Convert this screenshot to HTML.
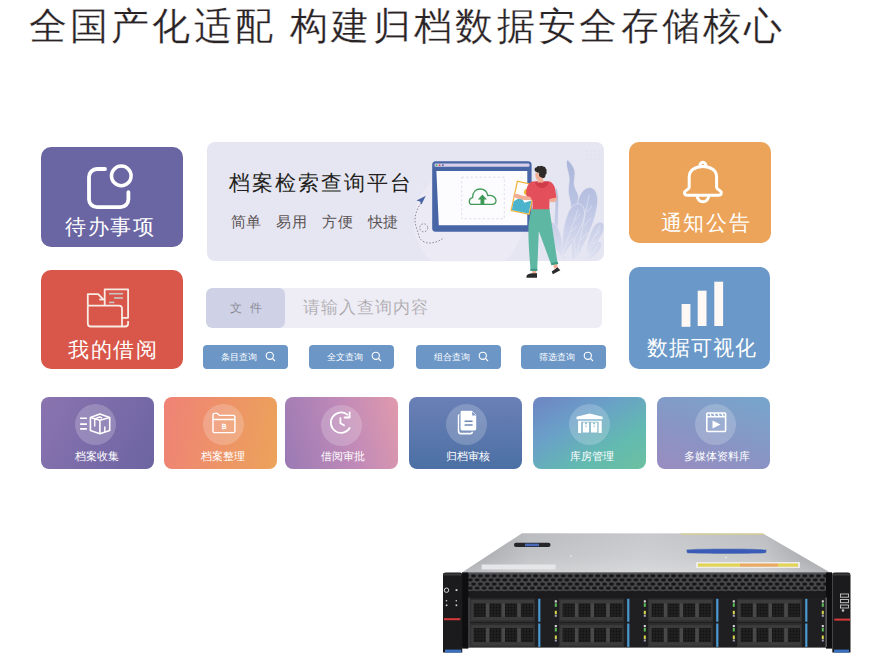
<!DOCTYPE html>
<html><head><meta charset="utf-8">
<style>
*{margin:0;padding:0;box-sizing:border-box}
html,body{width:873px;height:666px;overflow:hidden;background:#fff;font-family:"Liberation Sans",sans-serif}
.a{position:absolute}
.t{position:absolute;white-space:nowrap;line-height:1}
#title{left:28.5px;top:7px;font-size:38px;color:#2a2325;letter-spacing:3.3px;-webkit-text-stroke:0.25px #fff}
.card{position:absolute;border-radius:10px}
.ct{position:absolute;color:#fff;font-size:21px;line-height:1;white-space:nowrap;letter-spacing:1.7px}
.btn{position:absolute;top:344.5px;height:24.5px;width:85px;border-radius:4px;background:#6b96c6;color:#fff;font-size:9px}
.btn span{position:absolute;left:18px;top:8.5px;line-height:1;white-space:nowrap}
.btn svg{position:absolute;left:61.8px;top:6.5px}
.sc{position:absolute;top:396.5px;height:72.5px;width:113px;border-radius:8px;overflow:hidden}
.sc .c{position:absolute;left:34px;top:7px;width:41px;height:41px;border-radius:50%;background:rgba(255,255,255,0.2)}
.sc .l{position:absolute;width:113px;top:54px;text-align:center;color:#fff;font-size:10.5px;line-height:1;white-space:nowrap}
.sc svg{position:absolute}
</style></head><body>
<div id="title" class="t">全国产化适配 构建归档数据安全存储核心</div>

<!-- left big cards -->
<div class="card" style="left:41px;top:147px;width:142px;height:100px;background:#6a66a3">
  <svg class="a" style="left:0;top:0" width="142" height="100" viewBox="0 0 142 100">
    <path d="M64 22 H56 A8 8 0 0 0 48 30 V52.2 A8 8 0 0 0 56 60.2 H79.4 A8 8 0 0 0 87.4 52.2 V45.2" fill="none" stroke="#fff" stroke-width="3.8" stroke-linecap="round"/>
    <circle cx="80.3" cy="28.9" r="9.8" fill="none" stroke="#fff" stroke-width="3.5"/>
  </svg>
  <div class="ct" style="top:69px;left:24px">待办事项</div>
</div>
<div class="card" style="left:41px;top:270px;width:142px;height:99px;background:#d9574a">
  <svg class="a" style="left:0;top:0" width="142" height="99" viewBox="0 0 142 99">
    <g fill="none" stroke="#f7ebe4" stroke-width="1.8" stroke-linejoin="round">
      <path d="M63.7 35.6 V19.4 H87.1 V47.8 H81.3"/>
      <path d="M46.8 35.6 V24.1 H57.2 L62 29.2"/>
      <path d="M58.3 29.5 H63.7"/>
      <path d="M46.8 35.6 V53.5 A3 3 0 0 0 49.8 56.5 H84.1 A3 3 0 0 0 87.1 53.5 V51.1"/>
      <path d="M46.8 35.6 H78 A3 3 0 0 1 81 38.6 V56.5"/>
    </g>
    <g stroke="#cbc6c6" stroke-width="1.6"><path d="M68 23.7 H82"/><path d="M73 28 H82"/><path d="M68 32.4 H73.4"/></g>
  </svg>
  <div class="ct" style="top:68.5px;left:27px">我的借阅</div>
</div>

<!-- banner -->
<div class="card" style="left:206.5px;top:142px;width:397px;height:119.2px;background:#e6e6f2;border-radius:8px;overflow:hidden">
  <div class="t" style="left:22px;top:30px;font-size:21px;color:#231f20;letter-spacing:2.05px">档案检索查询平台</div>
  <div class="t" style="left:24px;top:72px;font-size:15px;color:#5a5354;letter-spacing:0.3px">简单&#12288;易用&#12288;方便&#12288;快捷</div>
</div>

<!-- illustration -->
<svg class="a" style="left:0;top:0" width="873" height="300" viewBox="0 0 873 300">
 <defs>
  <linearGradient id="lf" x1="0" y1="150" x2="0" y2="262" gradientUnits="userSpaceOnUse"><stop offset="0" stop-color="#a6b2d8"/><stop offset="0.45" stop-color="#b9c2e2"/><stop offset="1" stop-color="#e0e2f1"/></linearGradient>
  <clipPath id="bn"><rect x="206.5" y="142" width="397" height="119.2" rx="8"/></clipPath>
 </defs>
 <g clip-path="url(#bn)">
  <circle cx="468" cy="222" r="54" fill="#ecebf5"/>
  <!-- dots -->
  <g fill="#d4d3e6">
   <circle cx="587" cy="151" r="0.5"/><circle cx="591" cy="151" r="0.5"/><circle cx="595" cy="151" r="0.5"/><circle cx="599" cy="151" r="0.5"/>
   <circle cx="587" cy="155" r="0.5"/><circle cx="591" cy="155" r="0.5"/><circle cx="595" cy="155" r="0.5"/><circle cx="599" cy="155" r="0.5"/>
   <circle cx="587" cy="159" r="0.5"/><circle cx="591" cy="159" r="0.5"/><circle cx="595" cy="159" r="0.5"/><circle cx="599" cy="159" r="0.5"/>
  </g>
  <!-- plants -->
  <g fill="url(#lf)" stroke="#e4e5f2" stroke-width="0.7">
   <path d="M567.5 159.8 C571 163 575 168 575 173 C575 178 573.5 182 574.5 186 C575.5 190 579 194 578.8 199 C578.6 206 577 212 576.5 220 C576 235 577 248 577 259 L571.5 259 C571.5 246 571 232 571 220 C571 212 571 207 570.5 203 C570 198 568 195 568.3 190 C568.6 185 569.5 182 569 177 C568.5 172 566.5 168 566.5 164 C566.5 162 567 160.5 567.5 159.8 Z"/>
   <path d="M556.3 187 C553.5 194 555.5 202 555 210 C554.5 216 553.5 222 555 230 L558 230 C558.5 222 558 216 558.5 208 C559 200 558.5 192 556.3 187 Z"/>
   <path d="M549.5 222.5 C541.7 226.5 550.2 243.3 564.0 259.0 C563.3 238.2 557.9 220.0 549.5 222.5Z"/>
   <path d="M590.8 187.5 C575.8 185.9 571.6 220.8 576.0 259.0 C595.2 225.7 605.2 192.0 590.8 187.5Z"/>
   <path d="M579.8 204.0 C567.6 201.1 561.4 227.3 562.0 257.0 C580.4 233.7 591.3 209.0 579.8 204.0Z"/>
   <path d="M601.8 222.5 C594.2 219.5 588.1 235.3 586.0 254.0 C599.7 241.2 608.7 226.8 601.8 222.5Z"/>
   <path d="M600.2 242.0 C594.8 238.8 589.5 248.6 587.0 261.0 C597.7 254.4 605.1 245.9 600.2 242.0Z"/>
  </g>
  <g fill="none" stroke="#eef0f8" stroke-width="0.5" opacity="0.9">
   <path d="M589.3 194.7 L576.0 259.0"/><path d="M578.0 209.2 L562.0 256.0"/><path d="M600.2 225.6 L586.0 253.0"/><path d="M598.9 243.8 L587.0 260.0"/>
   <path d="M587 212 L592 206 M584 226 L591 218 M581 240 L588 232 M575 220 L580 214 M571 232 L577 226 M567 244 L573 238 M595 236 L600 231 M592 244 L597 239"/>
  </g>
  <!-- dashed path + plane -->
  <path d="M421 203 C417.5 208 415 214 415 220 C415 226 418 231 419 236 C420 240 424 243 429.5 243 C435 243 439 241 443 238.5" fill="none" stroke="#7a7080" stroke-width="0.8" stroke-dasharray="1.6 1.6"/><circle cx="423.7" cy="227.8" r="4" fill="none" stroke="#7a7080" stroke-width="0.8" stroke-dasharray="1.6 1.6"/>
  <path d="M425.8 195.8 L416.5 200.5 L420 201.5 L421.5 204.5 Z" fill="#4a64a6"/>
 </g>
 <!-- monitor -->
 <rect x="432.2" y="161.3" width="99.4" height="70.5" rx="3.5" fill="#4865a6"/>
 <rect x="434.5" y="163.5" width="95" height="3.2" rx="1.2" fill="#d8d0e8"/>
 <circle cx="436.6" cy="165.2" r="0.9" fill="#4cae5a"/><circle cx="439.6" cy="165.2" r="0.9" fill="#e04a50"/><circle cx="442.8" cy="165.2" r="0.9" fill="#4865a6"/>
 <path d="M436.4 171 H527.3 V225.3 H438.8 Z" fill="#fcfbfe"/>
 <rect x="461.7" y="177.2" width="42.6" height="41.5" fill="none" stroke="#d2d2dc" stroke-width="0.7" stroke-dasharray="2.2 2.3"/>
 <path d="M471.5 204.3 C468.5 204.3 468.3 198 472.6 197.6 C472.6 192 476 189 480.2 189 C484.5 189 487 192 487.8 195.5 C492.5 195 496 197.2 496 200.5 C496 203 494.3 204.3 492 204.3 Z" fill="none" stroke="#3f9a58" stroke-width="1.3"/>
 <path d="M482.4 194.6 L477.8 199.4 H480.5 V204.5 H484.3 V199.4 H487 Z" fill="#3f9a58"/>
 <!-- person -->
 <path d="M532.5 208 H549.3 L557.6 263.3 L551.2 264.8 L538.8 231 L537.2 270.8 L530.6 270.8 C529.4 256 528.3 242 528.4 230 C528.6 220 530.5 213 532.5 208 Z" fill="#5db7a2"/><path d="M532.3 270.5 H536.3 V273.8 H532.3 Z M553.2 264.8 L557 264 L557.8 267.5 L554 268.5 Z" fill="#f1ae94"/>
 <path d="M530.4 268.8 H537.3 V271 H530.4 Z M551 263 L557.8 261.8 L558.3 264 L551.4 265.2 Z" fill="#3e9c88"/>
 <path d="M526.5 276 C527 274 530 273.2 532.5 273.2 L537 273.2 V277.8 H526.5 Z" fill="#2a2a2c"/>
 <path d="M551.8 271.5 L557.5 267.3 L560.3 270.3 L552.8 274.2 Z" fill="#2a2a2c"/>
 <path d="M553 191 C556 192 557.5 196 556.5 200 C555.5 202.5 551 203 549.5 201 L549.5 193 Z" fill="#f1ae94"/>
 <g transform="rotate(12 522 197.5)"><rect x="513.5" y="182" width="19.5" height="31" fill="#f1b338"/><rect x="514.7" y="183.2" width="17.1" height="28.6" fill="#fdfcfa"/>
 <circle cx="526" cy="191" r="3.3" fill="#f3b632"/><path d="M514.7 203 L521 197.5 L525.5 202 L531.8 198.5 V211.8 H514.7 Z" fill="#4bb3cc"/></g>
 <path d="M532 181.5 H550 C553 183 555 186 555.5 191 L556.3 197.5 L549.5 199 L549.3 209.2 H532.6 L532.4 200 C530 200 525.5 198 526.2 191.5 C527 186 528.5 183 532 181.5 Z" fill="#e3505c"/>
 <path d="M535 181.5 H549 C548 186 545 188 542 188 C539 188 536 186 535 181.5 Z" fill="#d03c4a"/>
 <path d="M535.5 173 C535 176 536 179.5 538 180.5 L537.5 182.5 H543.5 L543 177 L539 176 L538.8 172.8 Z" fill="#f1ae94"/>
 <path d="M514 194.5 C516 193.5 519 194.2 522 195.5 L530 196.8 L532 199.5 C528 201 520 199.5 516 198 C513.5 197 512.5 195.5 514 194.5 Z" fill="#f1ae94"/>
 <path d="M534.6 170 C534.3 168.5 535.5 167.2 536.8 167.3 C537.2 166.2 538.5 165.8 539.5 166.4 C540.5 165.6 542 165.6 543 166.5 C544.3 166.2 545.5 167 545.5 168.3 C546.6 169 546.9 170.5 546.4 171.5 C547 172.5 546.6 174 545.6 174.5 C545.6 176 545 177.5 544 178 C542.5 178.2 540.8 177.3 539.5 176.5 C538.8 175.5 539 174 539.2 172.8 C538 173 536.8 172.5 536 171.8 C535.2 171.5 534.7 170.8 534.6 170 Z" fill="#2e2a28"/>
</svg>
<!-- search -->
<div class="a" style="left:206px;top:288px;width:396px;height:39.5px;background:#eeedf5;border-radius:6px;overflow:hidden">
  <div class="a" style="left:0;top:0;width:79px;height:39.5px;background:#cfd2e7;border-radius:6px"></div>
  <div class="t" style="left:23.5px;top:13.5px;font-size:12px;color:#767276;letter-spacing:8px;-webkit-text-stroke:0.2px #cfd2e7">文件</div>
  <div class="t" style="left:97px;top:11px;font-size:16.5px;color:#a09ca0;letter-spacing:1px;-webkit-text-stroke:0.25px #eeedf5">请输入查询内容</div>
</div>

<div class="btn" style="left:203px"><span>条目查询</span><svg width="11" height="11" viewBox="0 0 11 11"><circle cx="4.8" cy="4.8" r="3.6" fill="none" stroke="#fff" stroke-width="1.1"/><path d="M7.5 7.5 L10 10" stroke="#fff" stroke-width="1.1"/></svg></div>
<div class="btn" style="left:309px"><span>全文查询</span><svg width="11" height="11" viewBox="0 0 11 11"><circle cx="4.8" cy="4.8" r="3.6" fill="none" stroke="#fff" stroke-width="1.1"/><path d="M7.5 7.5 L10 10" stroke="#fff" stroke-width="1.1"/></svg></div>
<div class="btn" style="left:416px"><span>组合查询</span><svg width="11" height="11" viewBox="0 0 11 11"><circle cx="4.8" cy="4.8" r="3.6" fill="none" stroke="#fff" stroke-width="1.1"/><path d="M7.5 7.5 L10 10" stroke="#fff" stroke-width="1.1"/></svg></div>
<div class="btn" style="left:521px"><span>筛选查询</span><svg width="11" height="11" viewBox="0 0 11 11"><circle cx="4.8" cy="4.8" r="3.6" fill="none" stroke="#fff" stroke-width="1.1"/><path d="M7.5 7.5 L10 10" stroke="#fff" stroke-width="1.1"/></svg></div>

<!-- right cards -->
<div class="card" style="left:628.5px;top:142px;width:142.5px;height:100.5px;background:#eba45a">
  <svg class="a" style="left:0;top:0" width="142" height="100" viewBox="0 0 142 100">
    <g fill="none" stroke="#fff" stroke-width="3" stroke-linejoin="round">
      <path d="M60.2 45.5 V35 C60.2 28.5 66 24.5 73.9 24.5 C81.8 24.5 87.6 28.5 87.6 35 V45.5 C87.6 47.5 92.3 48 92.3 50.8 C92.3 52.5 91.3 53.3 89.3 53.3 H58.5 C56.5 53.3 55.5 52.5 55.5 50.8 C55.5 48 60.2 47.5 60.2 45.5 Z"/>
      <path d="M71.6 24.8 A2.8 2.8 0 1 1 76.2 24.8"/>
      <path d="M68 53.3 A5.9 6.5 0 0 0 79.8 53.3"/>
    </g>
  </svg>
  <div class="ct" style="top:70px;left:32px">通知公告</div>
</div>
<div class="card" style="left:628.5px;top:267px;width:141.5px;height:101.5px;background:#6a98c8">
  <svg class="a" style="left:0;top:0" width="142" height="101" viewBox="0 0 142 101">
    <g fill="#fff8f4"><rect x="52.6" y="37" width="8.8" height="22.8"/><rect x="68.7" y="23.7" width="8.8" height="35.3"/><rect x="85.3" y="14.7" width="8.8" height="44.3"/></g>
  </svg>
  <div class="ct" style="top:69.5px;left:18.5px;letter-spacing:1.05px">数据可视化</div>
</div>

<!-- bottom row -->
<div class="sc" style="left:41px;background:linear-gradient(120deg,#8a74b0,#6c64a2)">
 <div class="c" style="left:34.2px;top:7.9px"></div><div class="l" style="left:-0.9px">档案收集</div>
 <svg style="left:0;top:-1.5px" width="113" height="73" viewBox="0 0 113 73"><g fill="none" stroke="#fff" stroke-width="1.6" stroke-linejoin="round">
  <path d="M39.1 23.3 H45.9 M39.1 29.1 H45.9 M39.1 33.9 H45.9"/>
  <path d="M58.9 19.1 L68.7 22.4 V35.5 L58.9 38.7 L49.4 35.5 V22.4 Z"/>
  <path d="M49.4 22.4 L58.9 25.2 L68.7 22.4 M58.9 25.2 V38.7"/>
  <path d="M53.7 31.5 V23.8 L58.5 22 L61 23" stroke-width="1.4"/>
  <path d="M63.8 37 V31.5" stroke-width="1.4"/>
 </g></svg>
</div>
<div class="sc" style="left:163.5px;background:linear-gradient(100deg,#ef8276,#eca35a)">
 <div class="c" style="left:39.4px;top:7.9px"></div><div class="l" style="left:3.1px">档案整理</div>
 <svg style="left:-1px;top:-1.5px" width="113" height="73" viewBox="0 0 113 73"><g fill="none" stroke="#fff" stroke-width="1.4" stroke-linejoin="round">
  <path d="M50 36 V20 A1.6 1.6 0 0 1 51.6 18.4 H54.1 C55.2 18.4 55.4 20.4 56.8 20.4 H70.3 A1.6 1.6 0 0 1 71.9 22 V36 A1.6 1.6 0 0 1 70.3 37.6 H51.6 A1.6 1.6 0 0 1 50 36 Z"/>
  <path d="M50 24.5 H71.9"/>
 </g><text x="61.2" y="33.8" font-size="7" fill="none" stroke="#fff" stroke-width="0.55" text-anchor="middle" font-family="Liberation Sans">B</text></svg>
</div>
<div class="sc" style="left:285px;background:linear-gradient(75deg,#9a7ab4,#c08ab8 55%,#e09aac)">
 <div class="c" style="left:36.3px;top:8px"></div><div class="l" style="left:1.7px">借阅审批</div>
 <svg style="left:1px;top:-1.5px" width="113" height="73" viewBox="0 0 113 73"><g fill="none" stroke="#fff" stroke-width="1.8" stroke-linecap="round" stroke-linejoin="round">
  <path d="M63.73 33.01 A10.2 10.2 0 1 1 61.33 19.61"/>
  <path d="M58.6 22.5 H63.6 V17.4"/>
  <path d="M54.4 23.1 V28.3 L58 30.3"/>
 </g></svg>
</div>
<div class="sc" style="left:409px;background:linear-gradient(180deg,#6a80b6,#4c70a4)">
 <div class="c" style="left:37.1px;top:7px"></div><div class="l" style="left:2px">归档审核</div>
 <svg style="left:0.5px;top:-2px" width="113" height="73" viewBox="0 0 113 73">
  <path d="M51 19.5 H50.6 A2 2 0 0 0 48.6 21.5 V36.6 A2 2 0 0 0 50.6 38.6 H60.4 A2 2 0 0 0 62.4 36.6" fill="none" stroke="#fff" stroke-width="1.6"/>
  <path d="M52 15.1 H62.2 L66.8 19.7 V34 A2 2 0 0 1 64.8 36 H52 A2 2 0 0 1 50 34 V17.1 A2 2 0 0 1 52 15.1 Z" fill="#fff" stroke="#7b93bf" stroke-width="1.1"/>
  <path d="M62.2 16.4 V20.4 H66.1 Z" fill="#7b93bf"/>
  <path d="M54.6 26.3 H62.6 M54.6 29.9 H62.6" stroke="#6d89b6" stroke-width="1.5"/>
 </svg>
</div>
<div class="sc" style="left:533px;background:linear-gradient(150deg,#6e88c4 5%,#6aa0c8 35%,#62bab0 70%,#6cc0a0)">
 <div class="c" style="left:36.3px;top:7px"></div><div class="l" style="left:2.9px">库房管理</div>
 <svg style="left:0;top:0" width="113" height="73" viewBox="0 0 113 73">
  <path d="M43.5 19.8 L56.6 16.5 L69.6 19.8 V22.3 H43.5 Z" fill="#fff"/>
  <path d="M45.1 23.7 H68.7 V36 H65.6 V24.8 H48.2 V36 H45.1 Z" fill="#fff"/>
  <path d="M49.8 25.6 H56.1 V35.5 H49.8 Z M57.9 25.6 H64.3 V35.5 H57.9 Z" fill="#fff"/>
  <g fill="#85b6c6"><rect x="52.1" y="25.6" width="1.8" height="1.7"/><rect x="60.2" y="25.6" width="1.8" height="1.7"/>
  <path d="M52.1 28.8 H53.9 L53 30.4 Z M60.2 28.8 H62 L61.1 30.4 Z"/></g>
 </svg>
</div>
<div class="sc" style="left:657px;background:linear-gradient(200deg,#76a6cc,#8a94c4 60%,#9a8cc0)">
 <div class="c" style="left:38.2px;top:7px"></div><div class="l" style="left:3.4px">多媒体资料库</div>
 <svg style="left:0;top:-1px" width="113" height="73" viewBox="0 0 113 73">
  <rect x="49.8" y="17" width="18.8" height="18.5" rx="1" fill="none" stroke="#fff" stroke-width="1.6"/>
  <path d="M49.8 20.8 H68.6" stroke="#fff" stroke-width="1.4"/>
  <path d="M52.8 17.3 L54.2 20.6 M56.9 17.3 L58.3 20.6 M60.9 17.3 L62.3 20.6 M64.8 17.3 L66.2 20.6" stroke="#fff" stroke-width="1.3"/>
  <path d="M55.5 24.5 L63.5 28.5 L55.5 32.5 Z" fill="#fff"/>
 </svg>
</div>
<!-- server -->
<svg class="a" style="left:0;top:500px" width="873" height="166" viewBox="0 500 873 166">
 <defs>
  <linearGradient id="cov" x1="0" y1="0" x2="1" y2="0"><stop offset="0" stop-color="#9a9ca0"/><stop offset="0.18" stop-color="#bbbcbf"/><stop offset="0.5" stop-color="#c8c9cc"/><stop offset="0.82" stop-color="#bebfc2"/><stop offset="1" stop-color="#939599"/></linearGradient>
  <linearGradient id="covv" x1="0" y1="0" x2="0" y2="1"><stop offset="0" stop-color="#fff" stop-opacity="0"/><stop offset="0.6" stop-color="#fff" stop-opacity="0.12"/><stop offset="1" stop-color="#fff" stop-opacity="0.3"/></linearGradient>
  <pattern id="hc" x="465" y="573.8" width="6.9" height="8.2" patternUnits="userSpaceOnUse"><rect width="6.9" height="8.2" fill="#4a4a4c"/><ellipse cx="1.72" cy="2.05" rx="2.5" ry="1.65" fill="#141416"/><ellipse cx="5.17" cy="6.15" rx="2.5" ry="1.65" fill="#141416"/><ellipse cx="-1.73" cy="6.15" rx="2.5" ry="1.65" fill="#141416"/><ellipse cx="8.62" cy="2.05" rx="2.5" ry="1.65" fill="#141416"/></pattern>
  <pattern id="hc2" x="0" y="0" width="3" height="3" patternUnits="userSpaceOnUse"><rect width="3" height="3" fill="#202022"/><circle cx="1.5" cy="1.5" r="0.9" fill="#121213"/></pattern>
 </defs>
 <path d="M522 533.2 L763 533.5 L830 572.6 L462 572.6 Z" fill="url(#cov)"/>
 <path d="M522 533.2 L763 533.5 L830 572.6 L462 572.6 Z" fill="url(#covv)"/>
 <path d="M680 533.4 L763 533.5 L765 534.8 L682 534.8 Z" fill="#d8cf8a"/>
 <rect x="514" y="542.8" width="36.5" height="4.2" rx="2" fill="#26262a"/>
 <rect x="525" y="543.6" width="14" height="2.6" fill="#4a6ab8"/>
 <rect x="481.6" y="564.5" width="74" height="5" fill="#e6e6e8"/>
 <circle cx="571" cy="556" r="0.8" fill="#f4f4f4"/><circle cx="726" cy="557.5" r="0.8" fill="#f4f4f4"/>
 <path d="M686 549.5 C700 548.3 755 548.3 767 549.5 L766 553.3 C752 554.2 700 554.2 687 553.3 Z" fill="#3a5cb8" stroke="#d8d8c0" stroke-width="0.5"/>
 <rect x="696" y="562" width="104" height="6" fill="#ececec"/>
 <rect x="698" y="563.5" width="42" height="3.2" fill="#e2d456"/>
 <rect x="740" y="563.5" width="38" height="3.2" fill="#eaa860"/>
 <rect x="778" y="563.5" width="20" height="3.2" fill="#e2d456"/>
 <!-- front -->
 <rect x="462" y="572.6" width="370" height="75" fill="#1f1f21"/>
 <rect x="465" y="573.8" width="362" height="17.6" fill="url(#hc)"/>
 <rect x="462" y="591.4" width="370" height="6.4" fill="#1b1b1d"/>
 <rect x="462" y="572.6" width="370" height="1.2" fill="#5a5a5c"/>
 <!-- ears -->
 <path d="M443 575 Q443 572.6 446 572.6 H460 Q462.3 572.6 462.3 575 V652.6 H443 Z" fill="#1b1b1d"/>
 <rect x="443.5" y="573.5" width="18" height="2" fill="#3a3a3c"/>
 <rect x="462.3" y="572.6" width="6" height="76" fill="#0e0e10"/>
 <rect x="444" y="618.2" width="16.3" height="2" fill="#d83a3a"/>
 <rect x="445" y="649.6" width="16.3" height="3" fill="#3a72c0"/>
 <circle cx="446.5" cy="590.2" r="2.2" fill="none" stroke="#d8d8d8" stroke-width="1"/>
 <rect x="455.6" y="589.2" width="1.8" height="1.8" fill="#ddd"/>
 <rect x="445.8" y="600" width="1.4" height="1.4" fill="#bbb"/><rect x="455.6" y="600" width="1.4" height="1.4" fill="#bbb"/>
 <rect x="445.8" y="604.5" width="1.6" height="1.6" fill="#ddd"/><rect x="455.6" y="604.5" width="1.6" height="1.6" fill="#ddd"/>
 <path d="M832.3 575 Q832.3 572.6 835 572.6 H848 Q850.5 572.6 850.5 575 V652.6 H832.3 Z" fill="#1b1b1d"/>
 <rect x="833" y="573.5" width="17" height="2" fill="#3a3a3c"/>
 <rect x="826" y="572.6" width="6.3" height="76" fill="#0e0e10"/><rect x="825.5" y="597.5" width="1.3" height="49.5" fill="#6a6a6c"/>
 <rect x="834.3" y="618.6" width="15.7" height="2" fill="#d83a3a"/>
 <rect x="834" y="649.6" width="15" height="3" fill="#3a72c0"/>
 <g fill="none" stroke="#ccc" stroke-width="0.9"><rect x="840.5" y="594" width="8" height="3.2"/><rect x="840.5" y="599.5" width="8" height="3.2"/><rect x="840.5" y="605" width="8" height="3"/></g>
 <circle cx="843" cy="610.5" r="1.2" fill="#ccc"/>
<rect x="470" y="598.8" width="65" height="22.9" fill="#3c3b3c"/><rect x="470.8" y="599.5999999999999" width="63.4" height="21.3" fill="none" stroke="#262626" stroke-width="0.6"/><rect x="473.6" y="603.4" width="12.3" height="13.5" fill="url(#hc2)"/><rect x="489.3" y="603.4" width="12.3" height="13.5" fill="url(#hc2)"/><rect x="505.0" y="603.4" width="12.3" height="13.5" fill="url(#hc2)"/><rect x="520.8" y="603.4" width="12.3" height="13.5" fill="url(#hc2)"/><rect x="485.9" y="603.4" width="3.4" height="13.5" fill="#4a494a"/><rect x="501.6" y="603.4" width="3.4" height="13.5" fill="#4a494a"/><rect x="517.3" y="603.4" width="3.4" height="13.5" fill="#4a494a"/><rect x="538.2" y="598.8" width="2.2" height="22.9" fill="#4a9ad0"/><rect x="554.8" y="600.3" width="2" height="2.2" fill="#ddd"/><rect x="554.8" y="603.3" width="2" height="3.5" fill="#5cc05a"/><rect x="554.8" y="610.8" width="2" height="3.5" fill="#d8d84a"/><rect x="554.8" y="614.8" width="2" height="2" fill="#a8a0c0"/><rect x="470" y="623.5" width="65" height="23.4" fill="#3c3b3c"/><rect x="470.8" y="624.3" width="63.4" height="21.8" fill="none" stroke="#262626" stroke-width="0.6"/><rect x="473.6" y="628.1" width="12.3" height="14.0" fill="url(#hc2)"/><rect x="489.3" y="628.1" width="12.3" height="14.0" fill="url(#hc2)"/><rect x="505.0" y="628.1" width="12.3" height="14.0" fill="url(#hc2)"/><rect x="520.8" y="628.1" width="12.3" height="14.0" fill="url(#hc2)"/><rect x="485.9" y="628.1" width="3.4" height="14.0" fill="#4a494a"/><rect x="501.6" y="628.1" width="3.4" height="14.0" fill="#4a494a"/><rect x="517.3" y="628.1" width="3.4" height="14.0" fill="#4a494a"/><rect x="538.2" y="623.5" width="2.2" height="23.4" fill="#4a9ad0"/><rect x="554.8" y="625.0" width="2" height="2.2" fill="#ddd"/><rect x="554.8" y="628.0" width="2" height="3.5" fill="#5cc05a"/><rect x="554.8" y="635.5" width="2" height="3.5" fill="#d8d84a"/><rect x="554.8" y="639.5" width="2" height="2" fill="#a8a0c0"/><rect x="559" y="598.8" width="65" height="22.9" fill="#3c3b3c"/><rect x="559.8" y="599.5999999999999" width="63.4" height="21.3" fill="none" stroke="#262626" stroke-width="0.6"/><rect x="562.6" y="603.4" width="12.3" height="13.5" fill="url(#hc2)"/><rect x="578.3" y="603.4" width="12.3" height="13.5" fill="url(#hc2)"/><rect x="594.0" y="603.4" width="12.3" height="13.5" fill="url(#hc2)"/><rect x="609.8" y="603.4" width="12.3" height="13.5" fill="url(#hc2)"/><rect x="574.9" y="603.4" width="3.4" height="13.5" fill="#4a494a"/><rect x="590.6" y="603.4" width="3.4" height="13.5" fill="#4a494a"/><rect x="606.3" y="603.4" width="3.4" height="13.5" fill="#4a494a"/><rect x="627.2" y="598.8" width="2.2" height="22.9" fill="#4a9ad0"/><rect x="643.8" y="600.3" width="2" height="2.2" fill="#ddd"/><rect x="643.8" y="603.3" width="2" height="3.5" fill="#5cc05a"/><rect x="643.8" y="610.8" width="2" height="3.5" fill="#d8d84a"/><rect x="643.8" y="614.8" width="2" height="2" fill="#a8a0c0"/><rect x="559" y="623.5" width="65" height="23.4" fill="#3c3b3c"/><rect x="559.8" y="624.3" width="63.4" height="21.8" fill="none" stroke="#262626" stroke-width="0.6"/><rect x="562.6" y="628.1" width="12.3" height="14.0" fill="url(#hc2)"/><rect x="578.3" y="628.1" width="12.3" height="14.0" fill="url(#hc2)"/><rect x="594.0" y="628.1" width="12.3" height="14.0" fill="url(#hc2)"/><rect x="609.8" y="628.1" width="12.3" height="14.0" fill="url(#hc2)"/><rect x="574.9" y="628.1" width="3.4" height="14.0" fill="#4a494a"/><rect x="590.6" y="628.1" width="3.4" height="14.0" fill="#4a494a"/><rect x="606.3" y="628.1" width="3.4" height="14.0" fill="#4a494a"/><rect x="627.2" y="623.5" width="2.2" height="23.4" fill="#4a9ad0"/><rect x="643.8" y="625.0" width="2" height="2.2" fill="#ddd"/><rect x="643.8" y="628.0" width="2" height="3.5" fill="#5cc05a"/><rect x="643.8" y="635.5" width="2" height="3.5" fill="#d8d84a"/><rect x="643.8" y="639.5" width="2" height="2" fill="#a8a0c0"/><rect x="648" y="598.8" width="65" height="22.9" fill="#3c3b3c"/><rect x="648.8" y="599.5999999999999" width="63.4" height="21.3" fill="none" stroke="#262626" stroke-width="0.6"/><rect x="651.6" y="603.4" width="12.3" height="13.5" fill="url(#hc2)"/><rect x="667.3" y="603.4" width="12.3" height="13.5" fill="url(#hc2)"/><rect x="683.0" y="603.4" width="12.3" height="13.5" fill="url(#hc2)"/><rect x="698.8" y="603.4" width="12.3" height="13.5" fill="url(#hc2)"/><rect x="663.9" y="603.4" width="3.4" height="13.5" fill="#4a494a"/><rect x="679.6" y="603.4" width="3.4" height="13.5" fill="#4a494a"/><rect x="695.3" y="603.4" width="3.4" height="13.5" fill="#4a494a"/><rect x="716.2" y="598.8" width="2.2" height="22.9" fill="#4a9ad0"/><rect x="732.8" y="600.3" width="2" height="2.2" fill="#ddd"/><rect x="732.8" y="603.3" width="2" height="3.5" fill="#5cc05a"/><rect x="732.8" y="610.8" width="2" height="3.5" fill="#d8d84a"/><rect x="732.8" y="614.8" width="2" height="2" fill="#a8a0c0"/><rect x="648" y="623.5" width="65" height="23.4" fill="#3c3b3c"/><rect x="648.8" y="624.3" width="63.4" height="21.8" fill="none" stroke="#262626" stroke-width="0.6"/><rect x="651.6" y="628.1" width="12.3" height="14.0" fill="url(#hc2)"/><rect x="667.3" y="628.1" width="12.3" height="14.0" fill="url(#hc2)"/><rect x="683.0" y="628.1" width="12.3" height="14.0" fill="url(#hc2)"/><rect x="698.8" y="628.1" width="12.3" height="14.0" fill="url(#hc2)"/><rect x="663.9" y="628.1" width="3.4" height="14.0" fill="#4a494a"/><rect x="679.6" y="628.1" width="3.4" height="14.0" fill="#4a494a"/><rect x="695.3" y="628.1" width="3.4" height="14.0" fill="#4a494a"/><rect x="716.2" y="623.5" width="2.2" height="23.4" fill="#4a9ad0"/><rect x="732.8" y="625.0" width="2" height="2.2" fill="#ddd"/><rect x="732.8" y="628.0" width="2" height="3.5" fill="#5cc05a"/><rect x="732.8" y="635.5" width="2" height="3.5" fill="#d8d84a"/><rect x="732.8" y="639.5" width="2" height="2" fill="#a8a0c0"/><rect x="737" y="598.8" width="65" height="22.9" fill="#3c3b3c"/><rect x="737.8" y="599.5999999999999" width="63.4" height="21.3" fill="none" stroke="#262626" stroke-width="0.6"/><rect x="740.6" y="603.4" width="12.3" height="13.5" fill="url(#hc2)"/><rect x="756.3" y="603.4" width="12.3" height="13.5" fill="url(#hc2)"/><rect x="772.0" y="603.4" width="12.3" height="13.5" fill="url(#hc2)"/><rect x="787.8" y="603.4" width="12.3" height="13.5" fill="url(#hc2)"/><rect x="752.9" y="603.4" width="3.4" height="13.5" fill="#4a494a"/><rect x="768.6" y="603.4" width="3.4" height="13.5" fill="#4a494a"/><rect x="784.3" y="603.4" width="3.4" height="13.5" fill="#4a494a"/><rect x="805.2" y="598.8" width="2.2" height="22.9" fill="#4a9ad0"/><rect x="821.8" y="600.3" width="2" height="2.2" fill="#ddd"/><rect x="821.8" y="603.3" width="2" height="3.5" fill="#5cc05a"/><rect x="821.8" y="610.8" width="2" height="3.5" fill="#d8d84a"/><rect x="821.8" y="614.8" width="2" height="2" fill="#a8a0c0"/><rect x="737" y="623.5" width="65" height="23.4" fill="#3c3b3c"/><rect x="737.8" y="624.3" width="63.4" height="21.8" fill="none" stroke="#262626" stroke-width="0.6"/><rect x="740.6" y="628.1" width="12.3" height="14.0" fill="url(#hc2)"/><rect x="756.3" y="628.1" width="12.3" height="14.0" fill="url(#hc2)"/><rect x="772.0" y="628.1" width="12.3" height="14.0" fill="url(#hc2)"/><rect x="787.8" y="628.1" width="12.3" height="14.0" fill="url(#hc2)"/><rect x="752.9" y="628.1" width="3.4" height="14.0" fill="#4a494a"/><rect x="768.6" y="628.1" width="3.4" height="14.0" fill="#4a494a"/><rect x="784.3" y="628.1" width="3.4" height="14.0" fill="#4a494a"/><rect x="805.2" y="623.5" width="2.2" height="23.4" fill="#4a9ad0"/><rect x="821.8" y="625.0" width="2" height="2.2" fill="#ddd"/><rect x="821.8" y="628.0" width="2" height="3.5" fill="#5cc05a"/><rect x="821.8" y="635.5" width="2" height="3.5" fill="#d8d84a"/><rect x="821.8" y="639.5" width="2" height="2" fill="#a8a0c0"/><rect x="468.4" y="597.5" width="1.2" height="50" fill="#505052"/>
</svg>
</body></html>
